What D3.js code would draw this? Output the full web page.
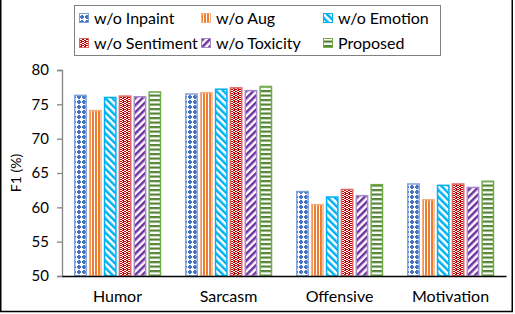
<!DOCTYPE html>
<html lang="en">
<head>
    <meta charset="UTF-8">
    <title>F1 ablation</title>
    <style>
        body { margin: 0; overflow: hidden; background: #fff; }
        text { font-family: Lato, "Open Sans", sans-serif; fill: #000; }
    </style>
</head>
<body>
    <svg id="chart" width="515" height="314"></svg>
    <script src="https://cdn.jsdelivr.net/npm/d3@7/dist/d3.min.js"></script>
    <script>
        const categories = ["Humor", "Sarcasm", "Offensive", "Motivation"];
        const series = ["w/o Inpaint", "w/o Aug", "w/o Emotion", "w/o Sentiment", "w/o Toxicity", "Proposed"];
        const inpaint   = [76.3, 76.5, 62.3, 63.4];
        const aug       = [74.1, 76.7, 60.4, 61.1];
        const emotion   = [76.0, 77.2, 61.5, 63.2];
        const sentiment = [76.2, 77.4, 62.6, 63.4];
        const toxicity  = [76.1, 77.0, 61.7, 62.9];
        const proposed  = [76.8, 77.6, 63.3, 63.8];
        const yTicks = [50, 55, 60, 65, 70, 75, 80];

        const values = [inpaint, aug, emotion, sentiment, toxicity, proposed];

        const svg = d3.select("#chart");
        const defs = svg.append("defs");

        // fill patterns, one per series
        function pat(id, w, h, bg) {
            const p = defs.append("pattern").attr("id", id)
                .attr("patternUnits", "userSpaceOnUse")
                .attr("width", w).attr("height", h);
            p.append("rect").attr("width", w).attr("height", h).attr("fill", bg);
            return p;
        }
        let p = pat("p0", 5, 5, "#fff");
        p.append("rect").attr("x", 0).attr("y", 1).attr("width", 4).attr("height", 2).attr("fill", "#4472c4");
        p.append("rect").attr("x", 1).attr("y", 0).attr("width", 2).attr("height", 4).attr("fill", "#4472c4");

        p = pat("p1", 3, 3, "#fff");
        p.append("rect").attr("x", 0).attr("width", 2).attr("height", 3).attr("fill", "#ed7d31");

        p = pat("p2", 5, 5, "#fff").attr("patternTransform", "rotate(-45)");
        p.append("rect").attr("width", 2.5).attr("height", 5).attr("fill", "#00b0f0");

        p = pat("p3", 4, 4, "#c00000");
        [[0, 1], [2, 0], [3, 2], [1, 3], [2, 2], [0, 3], [3, 0]].forEach(d => {
            p.append("rect").attr("x", d[0]).attr("y", d[1]).attr("width", 1).attr("height", 1).attr("fill", "#fff");
        });

        p = pat("p4", 5, 5, "#fff").attr("patternTransform", "rotate(45)");
        p.append("rect").attr("width", 2.5).attr("height", 5).attr("fill", "#7030a0");

        p = pat("p5", 4.5, 4.5, "#fff");
        p.append("rect").attr("y", 0).attr("width", 4.5).attr("height", 2.2).attr("fill", "#548235");

        const fills = ["url(#p0)", "url(#p1)", "url(#p2)", "url(#p3)", "url(#p4)", "url(#p5)"];
        const strokes = ["#7f9fd8", "#f4b183", "#00b0f0", "#e06666", "#a58bc7", "#70ad47"];

        const plotL = 62, plotR = 506, plotT = 70, plotB = 276;

        const x0 = d3.scaleBand().domain(categories).range([plotL, plotR]);
        const x1 = d3.scaleBand().domain(series).range([12.3, 99]).paddingInner(0.17);
        const y = d3.scaleLinear().domain([50, 80]).range([plotB, plotT]);

        // y axis
        const yAxis = svg.append("g")
            .attr("transform", `translate(${plotL},0)`)
            .call(d3.axisLeft(y).tickValues(yTicks).tickSize(5).tickPadding(8));
        yAxis.select(".domain").attr("stroke", "#868686").attr("stroke-width", 1.3);
        yAxis.selectAll(".tick line").attr("stroke", "#868686").attr("stroke-width", 1.3);
        yAxis.selectAll("text").attr("font-size", 15).attr("font-family", "Lato").attr("fill", "#000");

        svg.append("text")
            .attr("transform", `translate(21,${(plotT + plotB) / 2}) rotate(-90)`)
            .attr("text-anchor", "middle")
            .attr("font-size", 14)
            .text("F1 (%)");

        // bars
        const groups = svg.append("g").selectAll("g")
            .data(categories)
            .join("g")
            .attr("transform", d => `translate(${x0(d)},0)`);

        groups.selectAll("rect")
            .data((c, ci) => series.map((s, si) => ({ s, si, v: values[si][ci] })))
            .join("rect")
            .attr("x", d => x1(d.s) + 0.5)
            .attr("width", x1.bandwidth() - 1)
            .attr("y", d => y(d.v))
            .attr("height", d => y(50) - y(d.v))
            .attr("fill", d => fills[d.si])
            .attr("stroke", d => strokes[d.si])
            .attr("stroke-width", 1.5);

        // x axis
        const xAxis = svg.append("g")
            .attr("transform", `translate(0,${plotB})`)
            .call(d3.axisBottom(x0).tickSize(0).tickPadding(15));
        xAxis.select(".domain").attr("stroke", "#000").attr("stroke-width", 1.5);
        xAxis.selectAll("text").attr("font-size", 16).attr("font-family", "Lato").attr("fill", "#000");

        // legend
        const legend = svg.append("g");
        legend.append("rect")
            .attr("x", 74.5).attr("y", 5.5).attr("width", 366).attr("height", 50)
            .attr("fill", "#fff").attr("stroke", "#808080");
        const colX = [79, 201, 323];
        const rowY = [18, 43];
        series.forEach((s, i) => {
            const cx = colX[i % 3], cy = rowY[Math.floor(i / 3)];
            legend.append("rect")
                .attr("x", cx + 0.5).attr("y", cy - 4.5).attr("width", 9).attr("height", 9)
                .attr("fill", fills[i]).attr("stroke", strokes[i]);
            legend.append("text")
                .attr("x", cx + 15).attr("y", cy).attr("dy", "0.35em")
                .attr("font-size", 16)
                .text(s);
        });

        // outer frame
        svg.append("rect")
            .attr("x", 0.75).attr("y", -1).attr("width", 511.5).attr("height", 312.5)
            .attr("fill", "none").attr("stroke", "#000").attr("stroke-width", 1.5);
    </script>
</body>
</html>
